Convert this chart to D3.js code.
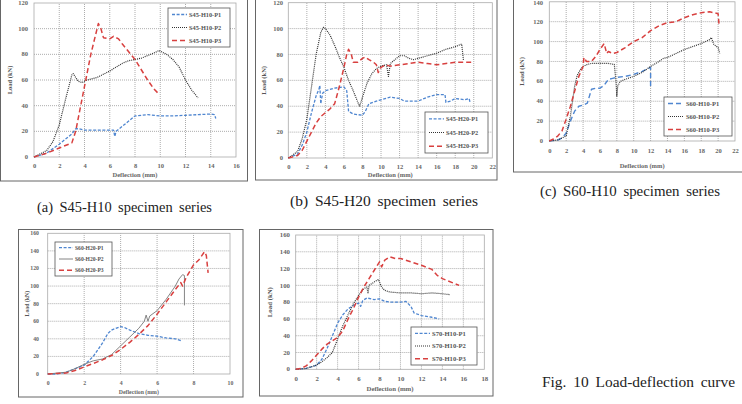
<!DOCTYPE html>
<html><head><meta charset="utf-8">
<script src="https://cdn.jsdelivr.net/npm/d3@7/dist/d3.min.js"></script>
<style>body{margin:0;background:#fff}svg{display:block}</style>
</head><body>
<svg id="c" width="742" height="404"></svg>
<script>
// ---------- data ----------
const a_P1 = [[0,0],[1,3],[2,10],[3,18],[3.3,22],[3.6,22],[4,21],[5,21],[6,21],[6.3,21],[6.4,16],[6.5,20],[7,24],[7.5,28],[8,32],[9,33],[10,32],[11,32],[12,32.5],[13,33],[14,33.5],[14.3,33],[14.4,30]];
const a_P2 = [[0,0],[1,5],[1.5,12],[2,25],[2.5,45],[3,64],[3.1,65],[3.5,59],[3.8,58],[4.2,60],[5,62],[6,67],[7,73],[7.5,75],[8,76],[8.5,77],[9,79],[9.5,81],[9.9,83],[10.5,80],[11,76],[11.5,70],[12,60],[12.5,52],[13,46]];
const a_P3 = [[0,0],[1,3],[2,7],[3,11],[3.3,20],[3.6,35],[4,55],[4.5,80],[5,100],[5.1,104],[5.3,100],[5.5,93],[6,92],[6.3,94],[6.7,92],[7,88],[7.5,82],[8,76],[8.5,68],[9,60],[9.5,53],[9.8,50]];

const b_P1 = [[0,0],[1,3],[1.5,10],[2,20],[2.5,35],[3,48],[3.3,53],[3.4,56],[3.5,42],[3.7,50],[4,52],[5,54],[6,55],[6.3,52],[6.5,36],[7,34],[8,33],[8.3,36],[8.7,42],[9.5,44],[10,45],[11,47],[12,46],[12.5,44],[13,44],[14,44],[15,47],[16,49],[16.9,49],[17,43],[17.5,44],[18,46],[19,45],[19.5,46],[19.6,43]];
const b_P2 = [[0,0],[1,5],[1.5,15],[2,30],[2.5,55],[3,80],[3.5,97],[3.8,101],[4,100],[4.5,95],[5,87],[5.5,78],[6,70],[6.5,60],[7,52],[7.5,43],[7.7,40],[8,47],[8.5,58],[9,65],[9.5,69],[10,71],[10.6,72],[10.8,63],[11,73],[12,79],[12.5,79],[13,77],[13.5,76],[14,77],[15,79],[16,81],[17,84],[18,86],[18.7,88],[18.9,75]];
const b_P3 = [[0,0],[1,2],[1.5,6],[2,13],[2.5,20],[3,27],[3.5,32],[4,35],[4.5,38],[5,42],[5.5,55],[6,70],[6.3,80],[6.5,84],[6.8,80],[7,74],[7.5,74],[8,77],[8.3,78],[8.7,76],[9.2,74],[9.5,72],[9.7,66],[10,70],[10.5,72],[11,71],[12,72],[13,73],[14,74],[15,73],[16,72],[17,73],[18,74],[19,74],[19.8,74]];

const c_P1 = [[0,0],[1,1],[1.5,3],[2,8],[2.5,20],[3,30],[3.5,35],[4,36],[4.5,38],[5,52],[5.5,53],[6,53],[6.5,56],[7,62],[7.5,63],[8,64],[9,65],[10,67],[11,70],[12,74],[12,55]];
const c_P2 = [[0,0],[1,1],[2,5],[2.5,25],[3,55],[3.3,66],[3.7,72],[4,75],[4.5,77],[5,78],[6,78],[7,78],[7.7,77],[7.9,60],[8,45],[8.1,55],[8.4,60],[9,62],[10,65],[11,69],[12,75],[13,80],[13.5,83],[14,84],[15,88],[16,92],[17,95],[18,98],[19,102],[19.2,104],[19.5,97],[20,94],[20.2,88]];
const c_P3 = [[0,0],[0.5,2],[1,5],[1.5,10],[2,22],[2.5,35],[3,50],[3.5,65],[4,75],[4.1,84],[4.4,80],[5,80],[5.5,85],[6,92],[6.5,98],[6.8,88],[7,90],[7.5,88],[8,89],[9,94],[10,100],[11,104],[12,111],[13,116],[14,119],[15,120],[16,124],[17,127],[18,129],[19,130],[20,128],[20.1,118]];

const d_P1 = [[0,0],[0.5,0],[1,2],[1.5,6],[2,10],[2.5,20],[3,35],[3.3,46],[3.5,50],[4,54],[4.2,53],[4.5,50],[5,46],[5.5,44],[6,43],[6.5,41],[7,40],[7.3,38]];
const d_P2 = [[0,0],[1,2],[1.5,6],[2,11],[2.5,15],[3,17],[3.5,22],[4,32],[4.5,42],[5,52],[5.3,60],[5.4,67],[5.5,60],[5.6,66],[6,72],[6.5,85],[7,100],[7.2,108],[7.4,113],[7.5,112],[7.5,78]];
const d_P3 = [[0,0],[1,1],[1.5,4],[2,8],[2.5,12],[3,16],[3.5,21],[4,28],[4.5,36],[5,45],[5.5,55],[6,68],[6.5,82],[7,96],[7.3,104],[7.4,100],[7.6,110],[8,124],[8.3,130],[8.6,139],[8.7,135],[8.8,115]];

const e_P1 = [[0,0],[1,1],[2,5],[2.5,12],[3,25],[3.5,40],[4,55],[4.5,65],[5,72],[5.5,76],[6,79],[6.2,75],[6.4,82],[6.8,85],[7.5,83],[8,84],[8.5,81],[9,80],[10,80],[10.5,81],[11,75],[11.3,67],[12,64],[13,62],[13.7,60]];
const e_P2 = [[0,0],[1,1],[2,5],[2.5,9],[3,14],[3.5,20],[4,36],[4.5,52],[5,65],[5.5,78],[6,88],[6.5,96],[6.8,98],[6.9,90],[7,100],[7.5,104],[7.9,107],[8.2,98],[8.5,94],[9,92],[10,91],[11,91],[12,90],[13,91],[14,90],[14.7,89]];
const e_P3 = [[0,0],[0.5,1],[1,4],[1.5,10],[2,17],[2.5,24],[3,30],[3.5,34],[4,38],[4.5,46],[5,60],[5.5,72],[6,86],[6.5,98],[7,108],[7.5,118],[8,128],[8.2,122],[8.5,130],[9,134],[9.5,132],[10,132],[11,128],[12,124],[13,119],[13.5,112],[14,108],[15,103],[15.6,100]];

const legendA = ["S45-H10-P1","S45-H10-P2","S45-H10-P3"];
const legendB = ["S45-H20-P1","S45-H20-P2","S45-H20-P3"];
const legendC = ["S60-H10-P1","S60-H10-P2","S60-H10-P3"];
const legendD = ["S60-H20-P1","S60-H20-P2","S60-H20-P3"];
const legendE = ["S70-H10-P1","S70-H10-P2","S70-H10-P3"];
const captions = ["(a) S45-H10 specimen series","(b) S45-H20 specimen series","(c) S60-H10 specimen series","Fig. 10 Load-deflection curve"];
const yTitle = "Load (kN)", xTitle = "Deflection (mm)";

// ---------- styles ----------
const BLUE = "#4f86d0", RED = "#d8403f", DARK = "#333";
const stP1 = {color:BLUE, dash:"3,1.6", w:1.3};
const stP1L = {color:BLUE, dash:"5,3", w:1.4};
const stP2 = {color:DARK, dash:"1,1", w:1.2};
const stP2S = {color:"#777", dash:null, w:0.9};
const stP3 = {color:RED, dash:"5,3", w:1.5};

const svg = d3.select("#c");
const FONT = "'Liberation Serif', serif";

function panel(cfg){
  const g = svg.append("g");
  g.append("rect").attr("x",cfg.frame[0]).attr("y",cfg.frame[1]).attr("width",cfg.frame[2]).attr("height",cfg.frame[3])
    .attr("fill","#fff").attr("stroke","#666").attr("stroke-width",1);
  const x = d3.scaleLinear().domain(cfg.xd).range([cfg.plot[0],cfg.plot[1]]);
  const y = d3.scaleLinear().domain(cfg.yd).range([cfg.plot[3],cfg.plot[2]]);
  const xt = d3.range(cfg.xd[0],cfg.xd[1]+0.001,cfg.xs);
  const yt = d3.range(cfg.yd[0],cfg.yd[1]+0.001,cfg.ys);
  g.append("g").selectAll("line").data(xt.slice(1,-1)).join("line")
    .attr("x1",d=>x(d)).attr("x2",d=>x(d)).attr("y1",y(cfg.yd[0])).attr("y2",y(cfg.yd[1]))
    .attr("stroke","#8a8a8a").attr("stroke-width",0.7).attr("stroke-dasharray","1,1");
  g.append("g").selectAll("line").data(yt.slice(1,-1)).join("line")
    .attr("y1",d=>y(d)).attr("y2",d=>y(d)).attr("x1",x(cfg.xd[0])).attr("x2",x(cfg.xd[1]))
    .attr("stroke","#8a8a8a").attr("stroke-width",0.7).attr("stroke-dasharray","1,1");
  g.append("rect").attr("x",x(cfg.xd[0])).attr("y",y(cfg.yd[1])).attr("width",x(cfg.xd[1])-x(cfg.xd[0])).attr("height",y(cfg.yd[0])-y(cfg.yd[1]))
    .attr("fill","none").attr("stroke","#aaa").attr("stroke-width",0.8);
  const xa = d3.axisBottom(x).tickValues(xt).tickSize(0).tickPadding(0).tickFormat(d3.format("d"));
  const xg = g.append("g").attr("transform",`translate(0,${cfg.xtickY})`).call(xa);
  const ya = d3.axisLeft(y).tickValues(yt).tickSize(0).tickPadding(0).tickFormat(d3.format("d"));
  const yg = g.append("g").attr("transform",`translate(${cfg.ytickX},0)`).call(ya);
  [xg,yg].forEach(a=>{a.select(".domain").remove();
    a.selectAll("text").attr("fill","#666").attr("font-family",FONT).attr("font-weight","bold").attr("font-size",cfg.fs);});
  xg.selectAll("text").attr("dy","0");
  yg.selectAll("text").attr("dy","0.32em");
  yg.selectAll(".tick").attr("transform",d=>`translate(0,${Math.max(y(d),3.2)})`);
  g.append("text").attr("x",(x(cfg.xd[0])+x(cfg.xd[1]))/2).attr("y",cfg.xtitleY).attr("text-anchor","middle")
    .attr("font-family",FONT).attr("font-weight","bold").attr("font-size",cfg.fs).attr("fill","#666").text(xTitle);
  g.append("text").attr("transform",`translate(${cfg.ytitleX},${(y(cfg.yd[0])+y(cfg.yd[1]))/2}) rotate(-90)`).attr("text-anchor","middle")
    .attr("font-family",FONT).attr("font-weight","bold").attr("font-size",cfg.fs).attr("fill","#555").text(yTitle);
  const line = d3.line().x(d=>x(d[0])).y(d=>y(d[1]));
  cfg.series.forEach(s=>{
    g.append("path").datum(s.data).attr("d",line).attr("fill","none").attr("stroke",s.st.color)
      .attr("stroke-width",s.st.w).attr("stroke-dasharray",s.st.dash).attr("stroke-linejoin","round");
  });
  const L = cfg.legend;
  g.append("rect").attr("x",L[0]).attr("y",L[1]).attr("width",L[2]).attr("height",L[3]).attr("fill","#fff").attr("stroke","#555").attr("stroke-width",0.8);
  const step = L[3]/3;
  cfg.series.forEach((s,i)=>{
    const cy = L[1]+step*(i+0.5);
    g.append("line").attr("x1",L[0]+4).attr("x2",L[0]+cfg.lw).attr("y1",cy).attr("y2",cy)
      .attr("stroke",s.st.color).attr("stroke-width",s.st.w).attr("stroke-dasharray",s.st.dash);
    g.append("text").attr("x",L[0]+cfg.lw+2).attr("y",cy).attr("dy","0.33em").attr("font-family",FONT).attr("font-weight","bold")
      .attr("font-size",cfg.lfs).attr("fill","#555").text(cfg.names[i]);
  });
}

panel({frame:[0.5,-5,247,186], plot:[34,236,3,157], xd:[0,16], xs:2, yd:[0,120], ys:20,
  xtickY:168, ytickX:28, xtitleY:177, ytitleX:12, fs:6.5, legend:[168,8,62,39], lw:19, lfs:6.3, names:legendA,
  series:[{data:a_P1,st:stP1},{data:a_P2,st:stP2},{data:a_P3,st:stP3}]});
panel({frame:[255.5,-5,241.5,185], plot:[288.3,492.3,2.7,158], xd:[0,22], xs:2, yd:[0,120], ys:20,
  xtickY:169, ytickX:283, xtitleY:177, ytitleX:266, fs:6.5, legend:[425,112,63,41], lw:19, lfs:6.3, names:legendB,
  series:[{data:b_P1,st:stP1},{data:b_P2,st:stP2},{data:b_P3,st:stP3}]});
panel({frame:[513.5,-5,235,177], plot:[549.3,735,1.8,141], xd:[0,22], xs:2, yd:[0,140], ys:20,
  xtickY:153, ytickX:543, xtitleY:168, ytitleX:524, fs:6.5, legend:[664,97,68,39], lw:20, lfs:6.5, names:legendC,
  series:[{data:c_P1,st:stP1L},{data:c_P2,st:stP2},{data:c_P3,st:stP3}]});
panel({frame:[18.5,229.5,224.5,167.5], plot:[47.7,230,233.3,374], xd:[0,10], xs:2, yd:[0,160], ys:20,
  xtickY:385, ytickX:39, xtitleY:393.5, ytitleX:29, fs:5.8, legend:[55,242,57,34], lw:18, lfs:5.6, names:legendD,
  series:[{data:d_P1,st:stP1},{data:d_P2,st:stP2S},{data:d_P3,st:stP3}]});
panel({frame:[259.5,229.5,233.5,166.5], plot:[295.7,484.3,235,369.3], xd:[0,18], xs:2, yd:[0,160], ys:20,
  xtickY:381, ytickX:290, xtitleY:391, ytitleX:272, fs:6.8, legend:[411,327,66,38], lw:19, lfs:6.6, names:legendE,
  series:[{data:e_P1,st:stP1},{data:e_P2,st:stP2},{data:e_P3,st:stP3}]});

// captions: larger condensed glyphs with slightly wide word gaps, fitted to the reference widths
const capPos = [[37,212,175],[290,206,188],[540,196,180],[542,387,193]];
captions.forEach((t,i)=>{
  svg.append("text").attr("x",capPos[i][0]).attr("y",capPos[i][1]).attr("font-family",FONT).attr("font-size",15.5)
    .attr("fill","#222").attr("word-spacing",3).attr("textLength",capPos[i][2]).attr("lengthAdjust","spacingAndGlyphs").text(t);
});
</script>
</body></html>
